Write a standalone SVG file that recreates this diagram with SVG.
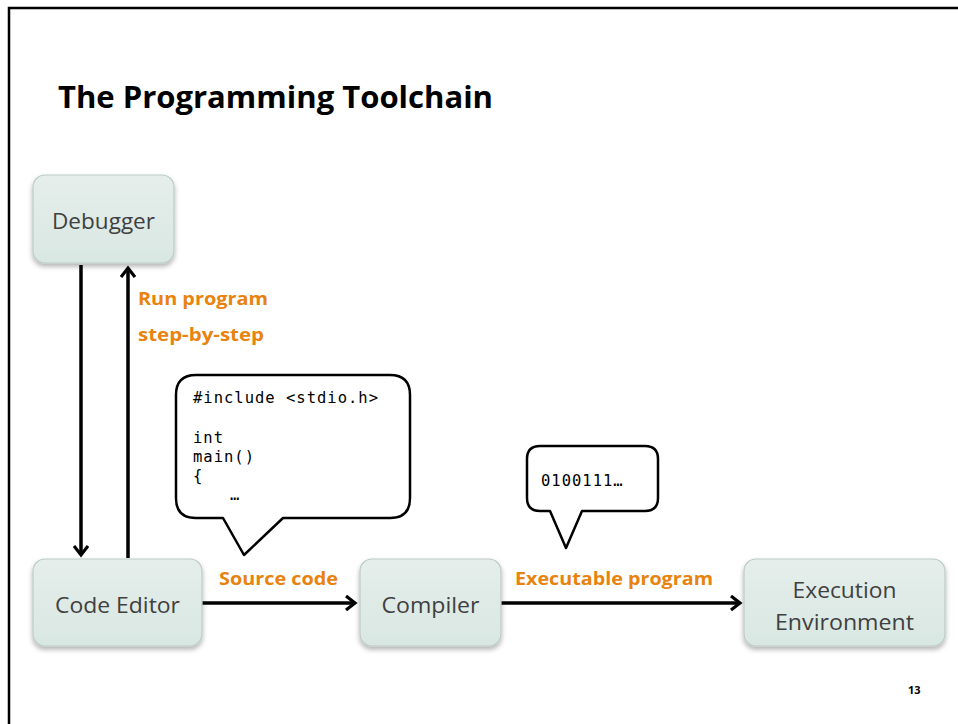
<svg xmlns="http://www.w3.org/2000/svg" width="958" height="724" viewBox="0 0 958 724">
<style>
.box{fill:url(#g);stroke:#bccbc6;stroke-width:1.2}
.nt{font-family:"Open Sans","Liberation Sans",sans-serif;font-size:22.5px;fill:#404040;text-anchor:middle}
.lbl{font-family:"Open Sans","Liberation Sans",sans-serif;font-weight:bold;font-size:18px;fill:#E8830F}
.code{font-family:"DejaVu Sans Mono","Liberation Mono",monospace;font-size:15.5px;letter-spacing:1px;fill:#000}
.ln{stroke:#000;stroke-width:3.5;fill:none}
.bub{fill:#fff;stroke:#000;stroke-width:2.5;stroke-linejoin:round}
</style>
<defs>
<linearGradient id="g" x1="0" y1="0" x2="0" y2="1">
<stop offset="0" stop-color="#e5eeeb"/>
<stop offset="1" stop-color="#d9e7e2"/>
</linearGradient>
<filter id="sh" x="-10%" y="-10%" width="120%" height="130%">
<feDropShadow dx="0" dy="3" stdDeviation="2.5" flood-color="#000" flood-opacity="0.3"/>
</filter>
<marker id="ah" markerWidth="14" markerHeight="16" refX="10" refY="8" orient="auto" markerUnits="userSpaceOnUse">
<path d="M1,1 L10,8 L1,15" fill="none" stroke="#000" stroke-width="3.2"/>
</marker>
</defs>
<rect x="0" y="0" width="958" height="724" fill="#fff"/>
<path d="M9,724 V8 H958" fill="none" stroke="#000" stroke-width="2.5"/>
<text x="58" y="108" font-family="Open Sans,Liberation Sans,sans-serif" font-weight="bold" font-size="30" fill="#000" textLength="435" lengthAdjust="spacingAndGlyphs">The Programming Toolchain</text>

<g id="connectors">
<line class="ln" x1="81" y1="265" x2="81" y2="555" marker-end="url(#ah)"/>
<line class="ln" x1="128" y1="558" x2="128" y2="268" marker-end="url(#ah)"/>
<line class="ln" x1="202" y1="603" x2="355" y2="603" marker-end="url(#ah)"/>
<line class="ln" x1="501" y1="603" x2="740" y2="603" marker-end="url(#ah)"/>
<text class="lbl" x="138" y="305" textLength="130" lengthAdjust="spacingAndGlyphs">Run program</text>
<text class="lbl" x="138" y="341" textLength="126" lengthAdjust="spacingAndGlyphs">step-by-step</text>
<text class="lbl" x="219" y="585" textLength="119" lengthAdjust="spacingAndGlyphs">Source code</text>
<text class="lbl" x="515" y="585" textLength="198" lengthAdjust="spacingAndGlyphs">Executable program</text>
</g>

<g id="debugger">
<rect class="box" x="33" y="175" width="141" height="88" rx="12" filter="url(#sh)"/>
<text class="nt" x="103.5" y="229" textLength="103" lengthAdjust="spacingAndGlyphs">Debugger</text>
</g>
<g id="code-editor">
<rect class="box" x="33" y="559" width="169" height="87" rx="12" filter="url(#sh)"/>
<text class="nt" x="117.5" y="613" textLength="125" lengthAdjust="spacingAndGlyphs">Code Editor</text>
</g>
<g id="compiler">
<rect class="box" x="360" y="559" width="141" height="87" rx="12" filter="url(#sh)"/>
<text class="nt" x="430.5" y="613" textLength="98" lengthAdjust="spacingAndGlyphs">Compiler</text>
</g>
<g id="execution-environment">
<rect class="box" x="744" y="559" width="201" height="87" rx="12" filter="url(#sh)"/>
<text class="nt" x="844.5" y="598" textLength="104" lengthAdjust="spacingAndGlyphs">Execution</text>
<text class="nt" x="844.5" y="630" textLength="139" lengthAdjust="spacingAndGlyphs">Environment</text>
</g>

<g id="source-bubble">
<path class="bub" d="M196,375 H390 Q410,375 410,395 V498 Q410,518 390,518 H283 L244,555 L223,518 H196 Q176,518 176,498 V395 Q176,375 196,375 Z"/>
<text class="code" x="193" y="403">#include &lt;stdio.h&gt;</text>
<text class="code" x="193" y="443">int</text>
<text class="code" x="193" y="462">main()</text>
<text class="code" x="193" y="481">{</text>
<text class="code" x="230" y="500">…</text>
</g>

<g id="binary-bubble">
<path class="bub" d="M540,446 H645 Q658,446 658,459 V498 Q658,511 645,511 H582 L566,548 L550,511 H540 Q527,511 527,498 V459 Q527,446 540,446 Z"/>
<text class="code" x="541" y="486">0100111…</text>
</g>

<text x="908" y="694" font-family="Open Sans,Liberation Sans,sans-serif" font-weight="bold" font-size="11" fill="#000">13</text>
</svg>
